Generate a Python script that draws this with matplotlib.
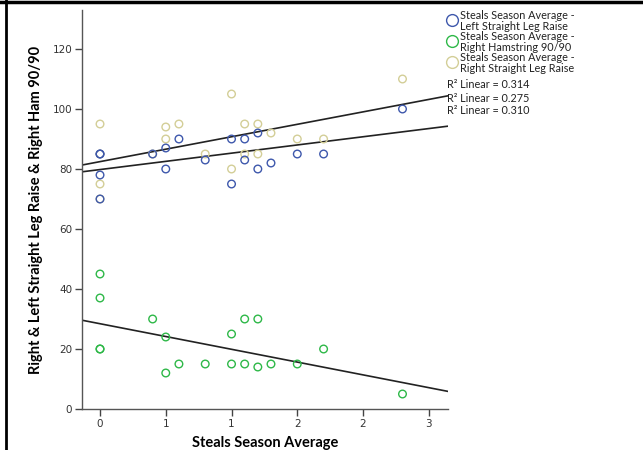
import numpy as np
import matplotlib
matplotlib.use("Agg")
import matplotlib.pyplot as plt
from matplotlib.lines import Line2D

# Steals season average (x) for each athlete
steals = [0, 0, 0, 0, 0.4, 0.5, 0.5, 0.6, 0.8, 1.0, 1.0, 1.1, 1.1, 1.2, 1.2, 1.3, 1.5, 1.7, 2.3]

left_slr = [85, 85, 78, 70, 85, 87, 80, 90, 83, 90, 75, 90, 83, 92, 80, 82, 85, 85, 100]
right_ham = [45, 37, 20, 20, 30, 24, 12, 15, 15, 25, 15, 30, 15, 30, 14, 15, 15, 20, 5]
right_slr = [95, 75, 85, 70, 85, 94, 90, 95, 85, 105, 80, 95, 85, 95, 85, 92, 90, 90, 110]

series_labels = [
    "Steals Season Average -\nLeft Straight Leg Raise",
    "Steals Season Average -\nRight Hamstring 90/90",
    "Steals Season Average -\nRight Straight Leg Raise",
]
r2_labels = ["0.314", "0.275", "0.310"]
xtick_vals = [0, 0.5, 1.0, 1.5, 2.0, 2.5]
xtick_text = ["0", "1", "1", "2", "2", "3"]

colors = ["#3E58AC", "#2EB848", "#D3CE97"]
font = ["Lato", "DejaVu Sans"]

fig = plt.figure(figsize=(6.43, 4.5), dpi=100)
ax = fig.add_axes([82 / 643, 41 / 450, 366 / 643, 399 / 450])

xmin, xmax = -0.137, 2.646
ax.set_xlim(xmin, xmax)
ax.set_ylim(0, 133)

x = np.array(steals)
# beige drawn underneath the blue, as in the original
zs = [4, 4, 3]
for ys, c, z in zip([left_slr, right_ham, right_slr], colors, zs):
    ax.scatter(x, ys, s=30, facecolors="none", edgecolors=c, linewidths=1.0, zorder=z)

# linear fit lines
xx = np.array([xmin, xmax])
for ys in [left_slr, right_ham, right_slr]:
    b, a = np.polyfit(x, ys, 1)
    ax.plot(xx, a + b * xx, color="#222222", lw=1.2, zorder=2)

for side in ["top", "right"]:
    ax.spines[side].set_visible(False)
for side in ["left", "bottom"]:
    ax.spines[side].set_color("#555555")
    ax.spines[side].set_linewidth(1.0)

ax.set_yticks(range(0, 121, 20))
ax.set_xticks(xtick_vals)
ax.set_xticklabels(xtick_text)
ax.tick_params(direction="out", length=5, width=1, color="#444444",
               labelsize=7.5, labelcolor="#333333", pad=2)

ax.set_xlabel("Steals Season Average", fontsize=10.5, fontweight="bold",
              family=font, labelpad=5)
ax.set_ylabel("Right & Left Straight Leg Raise & Right Ham 90/90", fontsize=10.5,
              fontweight="bold", family=font, labelpad=7)

# legend, laid out by hand
for i, (lab, c) in enumerate(zip(series_labels, colors)):
    ym = 1 - (20 + 21 * i) / 450
    fig.add_artist(Line2D([452 / 643], [ym], marker="o", ls="none", markersize=8.5,
                          markerfacecolor="none", markeredgecolor=c, markeredgewidth=1.0,
                          transform=fig.transFigure))
    fig.text(460 / 643, ym - 1 / 450, lab, fontsize=7.8, family=font, va="center",
             ha="left", color="#222222", linespacing=0.95)

for i, r in enumerate(r2_labels):
    fig.text(447 / 643, 1 - (85 + 13 * i) / 450, "R² Linear = " + r,
             fontsize=7.8, family=font, va="center", ha="left", color="#222222")

# frame edges of the original screenshot
fig.add_artist(Line2D([0, 1], [1 - 1.5 / 450, 1 - 1.5 / 450], color="black", lw=2.5,
                      transform=fig.transFigure))
fig.add_artist(Line2D([6 / 643, 6 / 643], [0, 1], color="black", lw=2,
                      transform=fig.transFigure))

fig.savefig("out.png", dpi=100)
